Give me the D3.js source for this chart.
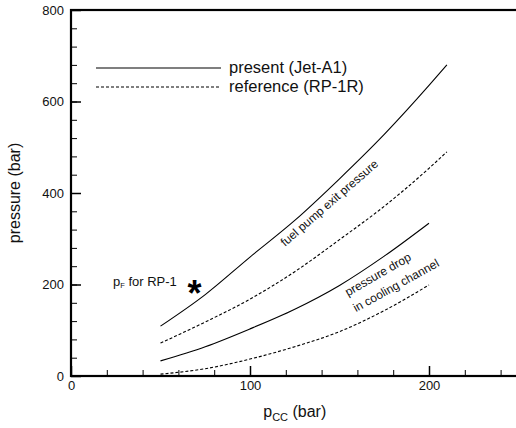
<!DOCTYPE html>
<html>
<head>
<meta charset="utf-8">
<script src="https://cdn.jsdelivr.net/npm/d3@7"></script>
<style>
  body { margin: 0; background: #fff; }
  svg { font-family: "Liberation Sans", Arial, sans-serif; }
</style>
</head>
<body>
<svg id="chart" width="516" height="428"></svg>
<script>
// p_cc (bar) sample points and curve values
var pccPump = [50, 75, 100, 125, 150, 175, 200, 210];
var pumpJet = [109, 178, 260, 340, 431, 528, 635, 680];
var pumpRP = [72, 118, 168, 228, 298, 371, 454, 490];

var pccDrop = [50, 75, 100, 125, 150, 175, 200];
var dropJet = [33, 64, 103, 146, 198, 262, 334];
var dropRP = [4, 16, 37, 64, 97, 143, 199];

var xTicks = [0, 100, 200];
var yTicks = [0, 200, 400, 600, 800];
var legendLabels = ['present (Jet-A1)', 'reference (RP-1R)'];
var starPoint = [69, 198];

var svg = d3.select('#chart');

var x = d3.scaleLinear().domain([0, 250]).range([71, 518.5]);
var y = d3.scaleLinear().domain([0, 800]).range([376, 10]);

// minor ticks
svg.append('g')
  .attr('transform', 'translate(0,' + y(0) + ')')
  .call(d3.axisBottom(x).tickValues(d3.range(0, 251, 20)).tickSize(-6).tickFormat(''))
  .call(function(g){ g.select('.domain').remove(); });
svg.append('g')
  .attr('transform', 'translate(' + x(0) + ',0)')
  .call(d3.axisLeft(y).tickValues(d3.range(0, 801, 40)).tickSize(-6).tickFormat(''))
  .call(function(g){ g.select('.domain').remove(); });

// major ticks + labels
var xAxis = svg.append('g')
  .attr('transform', 'translate(0,' + y(0) + ')')
  .call(d3.axisBottom(x).tickValues(xTicks).tickSize(-10).tickPadding(5));
var yAxis = svg.append('g')
  .attr('transform', 'translate(' + x(0) + ',0)')
  .call(d3.axisLeft(y).tickValues(yTicks).tickSize(-10).tickPadding(7));

[xAxis, yAxis].forEach(function(g){
  g.select('.domain').remove();
  g.selectAll('.tick line').attr('stroke-width', 1.5);
  g.selectAll('.tick text').attr('font-size', 13).attr('fill', '#111')
    .attr('font-family', '"Liberation Sans", Arial, sans-serif');
});
svg.selectAll('.tick line').attr('stroke', '#000');

// frame
svg.append('rect')
  .attr('x', x(0)).attr('y', y(800))
  .attr('width', x(250) - x(0)).attr('height', y(0) - y(800))
  .attr('fill', 'none').attr('stroke', '#000').attr('stroke-width', 2.2);

// curves
var line = d3.line()
  .x(function(d){ return x(d[0]); })
  .y(function(d){ return y(d[1]); })
  .curve(d3.curveMonotoneX);

var series = [
  { xs: pccPump, ys: pumpJet, dash: null },
  { xs: pccPump, ys: pumpRP, dash: '3,2' },
  { xs: pccDrop, ys: dropJet, dash: null },
  { xs: pccDrop, ys: dropRP, dash: '3,2' }
];

series.forEach(function(s){
  svg.append('path')
    .datum(d3.zip(s.xs, s.ys))
    .attr('d', line)
    .attr('fill', 'none')
    .attr('stroke', '#000')
    .attr('stroke-width', 1.1)
    .attr('stroke-dasharray', s.dash);
});

// legend
var legend = svg.append('g');
legendLabels.forEach(function(label, i){
  var ly = 68 + i * 19;
  legend.append('line')
    .attr('x1', 96).attr('x2', 221).attr('y1', ly).attr('y2', ly)
    .attr('stroke', '#000').attr('stroke-width', 1.1)
    .attr('stroke-dasharray', i ? '3,2' : null);
  legend.append('text')
    .attr('x', 229).attr('y', ly + 5)
    .attr('font-size', 16.5).attr('fill', '#111').text(label);
});

// axis titles
svg.append('text')
  .attr('transform', 'translate(20,' + ((y(0) + y(800)) / 2) + ') rotate(-90)')
  .attr('text-anchor', 'middle').attr('font-size', 16).attr('fill', '#111')
  .text('pressure (bar)');

var xt = svg.append('text')
  .attr('x', (x(0) + x(250)) / 2).attr('y', 417)
  .attr('text-anchor', 'middle').attr('font-size', 16).attr('fill', '#111');
xt.append('tspan').text('p');
xt.append('tspan').attr('font-size', 11).attr('dy', 4).text('CC');
xt.append('tspan').attr('dy', -4).text(' (bar)');

// annotations
svg.append('text')
  .attr('transform', 'translate(332,206) rotate(-41)')
  .attr('text-anchor', 'middle').attr('font-size', 12).attr('fill', '#111')
  .text('fuel pump exit pressure');

svg.append('text')
  .attr('transform', 'translate(380,278) rotate(-30)')
  .attr('text-anchor', 'middle').attr('font-size', 12).attr('fill', '#111')
  .text('pressure drop');
svg.append('text')
  .attr('transform', 'translate(398,289) rotate(-29)')
  .attr('text-anchor', 'middle').attr('font-size', 12).attr('fill', '#111')
  .text('in cooling channel');

var pf = svg.append('text')
  .attr('x', 113).attr('y', 286).attr('font-size', 13).attr('fill', '#111');
pf.append('tspan').text('p');
pf.append('tspan').attr('font-size', 7.5).attr('dy', 2).text('F');
pf.append('tspan').attr('dy', -2).text(' for RP-1');

svg.append('text')
  .attr('x', x(starPoint[0])).attr('y', y(starPoint[1]) + 21)
  .attr('text-anchor', 'middle').attr('font-size', 36).attr('font-weight', 'bold')
  .text('*');
</script>
</body>
</html>
